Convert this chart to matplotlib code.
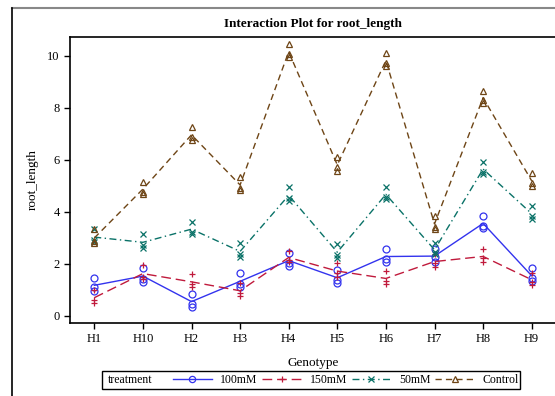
import matplotlib
matplotlib.use('Agg')
import matplotlib.pyplot as plt
from matplotlib.lines import Line2D
from matplotlib.patches import Rectangle
import numpy as np

plt.rcParams['font.family'] = ['Liberation Serif', 'DejaVu Serif']

genotypes = ['H1', 'H10', 'H2', 'H3', 'H4', 'H5', 'H6', 'H7', 'H8', 'H9']

# three replicate readings per genotype
r100 = [[1.47, 1.10, 0.97], [1.86, 1.42, 1.32], [0.85, 0.45, 0.36], [1.64, 1.23, 1.13],
        [2.44, 2.03, 1.92], [1.77, 1.38, 1.26], [2.58, 2.19, 2.09], [2.56, 2.26, 2.09],
        [3.85, 3.46, 3.37], [1.83, 1.45, 1.36]]
r150 = [[1.00, 0.62, 0.49], [1.96, 1.51, 1.42], [1.62, 1.22, 1.10], [1.26, 0.87, 0.78],
        [2.51, 2.15, 2.09], [2.03, 1.64, 1.51], [1.74, 1.36, 1.23], [2.38, 2.03, 1.87],
        [2.56, 2.22, 2.09], [1.67, 1.32, 1.19]]
r50 = [[3.33, 2.92, 2.85], [3.14, 2.73, 2.63], [3.63, 3.24, 3.15], [2.79, 2.38, 2.28],
       [4.95, 4.53, 4.44], [2.77, 2.35, 2.24], [4.95, 4.59, 4.49], [2.79, 2.47, 2.38],
       [5.94, 5.55, 5.46], [4.23, 3.85, 3.72]]
rctl = [[3.33, 2.88, 2.79], [5.17, 4.78, 4.69], [7.26, 6.87, 6.77], [5.36, 4.91, 4.85],
        [10.46, 10.06, 9.97], [6.10, 5.74, 5.59], [10.13, 9.72, 9.62], [3.85, 3.44, 3.33],
        [8.67, 8.31, 8.20], [5.49, 5.10, 5.00]]

treatments = ['100mM', '150mM', '50mM', 'Control']
series = [r100, r150, r50, rctl]
colors = ['#3333ee', '#c01a3c', '#0a7268', '#6e4516']
markers = ['o', '+', 'x', '^']
dashes = [(None, None), (7, 3.5), (5, 2.5, 1, 2.5), (4.5, 3)]

fig = plt.figure(figsize=(5.55, 3.96), dpi=100)
ax = fig.add_axes([70 / 555, 73 / 396, 486 / 555, 286 / 396])

x = np.arange(len(genotypes))
handles = []
for name, vals, c, m, d in zip(treatments, series, colors, markers, dashes):
    vals = np.array(vals)
    for k in range(vals.shape[1]):
        ax.plot(x, vals[:, k], linestyle='none', marker=m, markersize=5,
                markerfacecolor='none', markeredgecolor=c, markeredgewidth=0.9)
    ln, = ax.plot(x, vals.mean(axis=1), color=c, linewidth=1.0)
    if d[0] is not None:
        ln.set_dashes(d)
    h = Line2D([0], [0], color=c, linewidth=1.0, marker=m, markersize=4.5,
               markerfacecolor='none', markeredgecolor=c, markeredgewidth=0.9)
    if d[0] is not None:
        h.set_dashes(d)
    handles.append(h)

ax.set_xlim(-0.5, 9.5)
ax.set_ylim(-0.27, 10.73)
ax.set_xticks(x)
ax.set_xticklabels(genotypes)
ax.set_yticks([0, 2, 4, 6, 8, 10])
ax.tick_params(direction='out', length=4, width=1, labelsize=9, colors='black')
ax.spines['right'].set_visible(False)
for s in ['left', 'bottom', 'top']:
    ax.spines[s].set_linewidth(1.2)
ax.set_xlabel('Genotype', fontsize=9.5, labelpad=8)
ax.set_ylabel('root_length', fontsize=9.5, labelpad=6)
ax.set_title('Interaction Plot for root_length', fontsize=9.5, fontweight='bold', pad=7)

# outer frame of the page
fig.add_artist(Line2D([12 / 555, 1], [1 - 8 / 396, 1 - 8 / 396], color='#888888', linewidth=1.5))
fig.add_artist(Line2D([12 / 555, 12 / 555], [0, 1 - 8 / 396], color='black', linewidth=1.2))

# legend box with the group title on the left
fig.add_artist(Rectangle((102 / 555, 1 - 389 / 396), 418 / 555, 18 / 396, transform=fig.transFigure,
                         facecolor='white', edgecolor='black', linewidth=1.0))
fig.text(108 / 555, 1 - 380 / 396, 'treatment', fontsize=8.5, va='center', ha='left')
fig.legend(handles, treatments, ncol=4, loc='center left', bbox_to_anchor=(173 / 555, 1 - 380 / 396),
           fontsize=8.5, numpoints=1, handlelength=3.3, columnspacing=0.4, handletextpad=0.7,
           borderpad=0.0, borderaxespad=0.0, frameon=False)

fig.savefig('out.png', dpi=100)
